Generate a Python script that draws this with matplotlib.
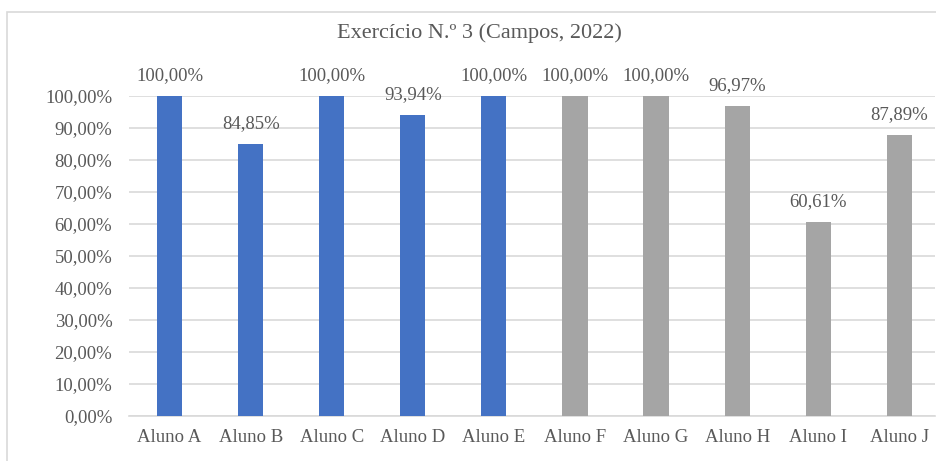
from matplotlib import pyplot as plt
from matplotlib.patches import Rectangle
from matplotlib.ticker import FuncFormatter

plt.rcParams["font.family"] = ["Liberation Serif", "DejaVu Serif"]
plt.rcParams["font.size"] = 13.5

alunos = ['Aluno A', 'Aluno B', 'Aluno C', 'Aluno D', 'Aluno E',
          'Aluno F', 'Aluno G', 'Aluno H', 'Aluno I', 'Aluno J']
valores = [100.00, 84.85, 100.00, 93.94, 100.00,
           100.00, 100.00, 96.97, 60.61, 87.89]
grupo = ['a'] * 5 + ['b'] * 5

cores = {'a': '#4472C4', 'b': '#A5A5A5'}
texto = '#595959'
grade = '#D9D9D9'


def pct(v, pos=None):
    return f'{v:.2f}'.replace('.', ',') + '%'


if __name__ == '__main__':
    fig = plt.figure(figsize=(9.37, 4.61), dpi=100)
    # moldura do gráfico (cortada à direita e em baixo)
    fig.patches.append(Rectangle((7 / 937, -0.05), 1.1, 1 - 12 / 461 + 0.05,
                                 transform=fig.transFigure, fill=False,
                                 edgecolor=grade, linewidth=1.2))

    ax = fig.add_axes([129 / 937, 1 - 416 / 461, 806 / 937, 320 / 461])
    x = range(len(alunos))
    ax.bar(x, valores, width=0.31, color=[cores[g] for g in grupo], zorder=3)

    for xi, v in zip(x, valores):
        ax.annotate(pct(v), (xi, v), xytext=(0, 11.5), textcoords='offset points',
                    ha='center', va='baseline', color=texto, fontsize=13.5)

    ax.set_xlim(-0.5, 9.44)
    ax.set_ylim(0, 100)
    ax.set_yticks(range(0, 101, 10))
    ax.yaxis.set_major_formatter(FuncFormatter(pct))
    ax.set_xticks(list(x))
    ax.set_xticklabels(alunos)
    ax.tick_params(length=0, colors=texto, labelsize=13.5)
    ax.tick_params(axis='y', pad=12)
    ax.tick_params(axis='x', pad=9)
    ax.grid(axis='y', color=grade, linewidth=1.2, zorder=0)
    for s in ['top', 'right', 'left']:
        ax.spines[s].set_visible(False)
    ax.spines['bottom'].set_color(grade)
    ax.spines['bottom'].set_linewidth(1.2)

    fig.text(479 / 937, 1 - 33 / 461, 'Exercício N.º 3 (Campos, 2022)',
             ha='center', va='center', color=texto, fontsize=16)

    plt.savefig('out.png', dpi=100)
